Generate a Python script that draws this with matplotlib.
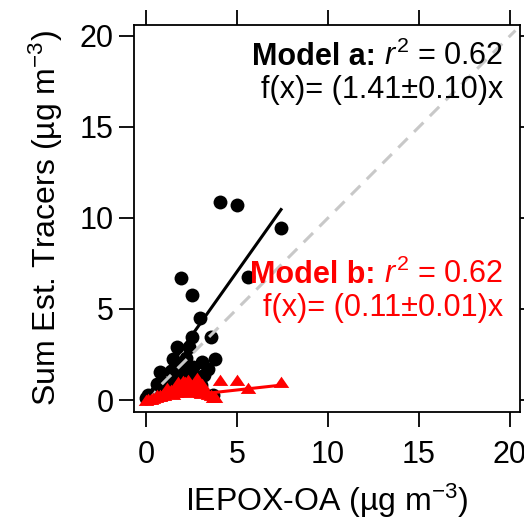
import matplotlib
matplotlib.use("Agg")
import matplotlib.pyplot as plt
import numpy as np

plt.rcParams['font.family'] = ['Liberation Sans', 'DejaVu Sans']
plt.rcParams['mathtext.fontset'] = 'custom'
plt.rcParams['mathtext.rm'] = 'Liberation Sans'
plt.rcParams['mathtext.it'] = 'Liberation Sans:italic'
plt.rcParams['mathtext.bf'] = 'Liberation Sans:bold'

# IEPOX-OA (x) and the two tracer-based estimates (y), ug m-3
iepox_oa = [4.07, 5.00, 7.42, 5.60, 1.92, 2.53, 2.97, 3.57, 2.53, 1.70,
            2.36, 1.48, 3.08, 3.79, 2.58, 2.03, 0.77, 2.80, 1.59, 2.14,
            1.15, 0.77, 0.11, 0.00, 1.21, 1.76, 0.40, 0.55, 0.95, 1.35,
            2.30, 2.65, 3.20, 3.40, 0.25, 1.00, 1.65, 2.45, 3.00, 1.85,
            2.20, 3.68, 0.60, 1.40, 2.70]
model_a = [10.88, 10.71, 9.45, 6.76, 6.70, 5.77, 4.51, 3.46, 3.46, 2.91,
           2.91, 2.25, 2.09, 2.25, 1.81, 1.65, 1.54, 1.26, 1.37, 1.10,
           0.93, 0.55, 0.27, 0.11, 0.55, 0.71, 0.30, 0.45, 0.70, 0.80,
           0.95, 1.00, 1.40, 1.70, 0.15, 0.35, 1.15, 1.45, 0.85, 1.90,
           2.30, 0.30, 0.90, 1.60, 0.60]
model_b = [1.10, 1.10, 0.99, 0.66, 0.55, 0.50, 0.45, 0.30, 0.60, 0.70,
           0.45, 0.35, 0.90, 0.16, 0.80, 1.05, 0.30, 1.21, 0.60, 1.00,
           0.66, 0.20, 0.05, 0.02, 0.40, 0.99, 0.10, 0.15, 0.35, 0.50,
           1.10, 0.70, 0.55, 0.35, 0.08, 0.25, 0.45, 0.85, 0.40, 0.75,
           0.60, 0.16, 0.25, 0.55, 0.95]

slope_a = 1.41
slope_b = 0.11
fit_a_range = [0.07, 7.42]
fit_b_range = [0.0, 7.5]
one_to_one = [0, 20.3]

fig = plt.figure(figsize=(5.24, 5.18), dpi=100)
ax = fig.add_axes([0.2557, 0.2046, 0.7366, 0.7471])

ax.scatter(iepox_oa, model_a, s=100, color='black', linewidths=0, zorder=2)
ax.plot(one_to_one, one_to_one, color='#c8c8c8', lw=2.2, dashes=(4.3, 3), zorder=3)
xa = np.array(fit_a_range)
ax.plot(xa, slope_a * xa, color='black', lw=2.2, zorder=4)

tri = [(-1, -0.7), (1, -0.7), (0, 0.75)]
ax.scatter(iepox_oa, model_b, s=125, marker=tri, color='red', linewidths=0, zorder=5)
xb = np.array(fit_b_range)
ax.plot(xb, slope_b * xb, color='red', lw=2.2, zorder=6)

ax.set_xlim(-0.66, 20.55)
ax.set_ylim(-0.66, 20.6)
ax.set_xticks([0, 5, 10, 15, 20])
ax.set_yticks([0, 5, 10, 15, 20])
ax.tick_params(direction='out', length=10.5, width=1.3, labelsize=22,
               top=True, right=True)
ax.tick_params(axis='x', pad=10)
ax.tick_params(axis='y', pad=4)
for sp in ax.spines.values():
    sp.set_linewidth(1.3)

fig.text(327 / 524, 1 - 511 / 518, r'IEPOX-OA (µg m$^{-3}$)', fontsize=23,
         ha='center', va='baseline')
fig.text(56 / 524, 1 - 218 / 518, r'Sum Est. Tracers (µg m$^{-3}$)', fontsize=23,
         rotation=90, rotation_mode='anchor', ha='center', va='baseline')


def model_label(name, fit, ypx, color):
    renderer = fig.canvas.get_renderer()
    right = fig.text(503 / 524, 1 - ypx / 518, r' $r^{2}$ = 0.62', fontsize=22,
                     ha='right', va='baseline', color=color)
    x0 = right.get_window_extent(renderer).x0 / fig.bbox.width
    fig.text(x0, 1 - ypx / 518, name, fontsize=22, fontweight='bold',
             ha='right', va='baseline', color=color)
    fig.text(503 / 524, 1 - (ypx + 33) / 518, fit, fontsize=22,
             ha='right', va='baseline', color=color)


model_label('Model a:', 'f(x)= (1.41±0.10)x', 65, 'black')
model_label('Model b:', 'f(x)= (0.11±0.01)x', 283, 'red')

fig.savefig('out.png', dpi=100)
